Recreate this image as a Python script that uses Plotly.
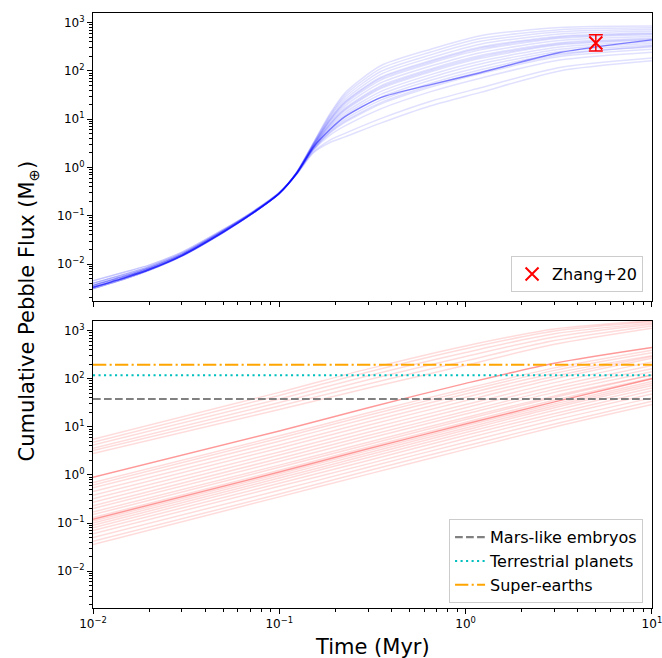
import plotly.graph_objects as go

# ---------------- data ----------------
t_blue = [0.01, 0.015, 0.02, 0.03, 0.05, 0.07, 0.1, 0.124, 0.152, 0.187, 0.225, 0.35, 0.65, 1.2, 3.2, 10]
blue_lines = [
    [0.0031, 0.0050, 0.0074, 0.0146, 0.045, 0.104, 0.29, 0.72, 2.0, 3.3, 4.3, 8.3, 19, 36, 100, 162],
    [0.0033, 0.0053, 0.0077, 0.0150, 0.046, 0.105, 0.29, 0.73, 2.07, 3.7, 5.1, 10.3, 23.6, 44.7, 118, 185],
    [0.0036, 0.0057, 0.0082, 0.0157, 0.048, 0.108, 0.295, 0.74, 2.25, 4.66, 7.26, 16.4, 37.3, 70.8, 168, 245],
    [0.0040, 0.0062, 0.0088, 0.0165, 0.050, 0.111, 0.30, 0.745, 2.33, 5.19, 8.59, 20.5, 46.2, 87.7, 198, 281],
    [0.0031, 0.0050, 0.0074, 0.0146, 0.045, 0.104, 0.29, 0.75, 2.42, 5.71, 9.93, 24.8, 55.8, 106, 229, 315],
    [0.0033, 0.0053, 0.0077, 0.0150, 0.046, 0.105, 0.29, 0.755, 2.47, 6.12, 11.0, 28.4, 64, 121, 254, 342],
    [0.0045, 0.0069, 0.0095, 0.0176, 0.052, 0.114, 0.305, 0.76, 2.53, 6.56, 12.3, 32.6, 73.3, 139, 282, 372],
    [0.0036, 0.0057, 0.0082, 0.0157, 0.048, 0.108, 0.295, 0.76, 2.59, 7.0, 13.6, 37.3, 83.8, 159, 313, 404],
    [0.0033, 0.0053, 0.0077, 0.0150, 0.046, 0.105, 0.29, 0.77, 2.65, 7.52, 15.1, 42.9, 95.9, 182, 347, 439],
    [0.0040, 0.0062, 0.0088, 0.0165, 0.050, 0.111, 0.30, 0.77, 2.72, 8.05, 16.8, 49.1, 110, 208, 385, 476],
    [0.0031, 0.0050, 0.0074, 0.0146, 0.045, 0.104, 0.29, 0.77, 2.78, 8.63, 18.7, 56.4, 126, 239, 427, 518],
    [0.0036, 0.0057, 0.0082, 0.0157, 0.048, 0.108, 0.295, 0.78, 2.84, 9.23, 20.7, 64.6, 144, 273, 473, 562],
    [0.0033, 0.0053, 0.0077, 0.0150, 0.046, 0.105, 0.29, 0.78, 2.91, 9.89, 23.0, 74, 164, 313, 525, 611],
    [0.0045, 0.0069, 0.0095, 0.0176, 0.052, 0.114, 0.305, 0.79, 2.98, 10.6, 25.5, 84.9, 188, 358, 582, 664],
    [0.0040, 0.0062, 0.0088, 0.0165, 0.050, 0.111, 0.30, 0.79, 3.05, 11.4, 28.4, 97.2, 215, 410, 646, 721],
    [0.0033, 0.0053, 0.0077, 0.0150, 0.046, 0.105, 0.29, 0.80, 3.13, 12.1, 31.5, 112, 246, 469, 716, 783],
    [0.0036, 0.0057, 0.0082, 0.0157, 0.048, 0.108, 0.295, 0.80, 3.2, 13, 35, 128, 282, 537, 794, 851],
    [0.0031, 0.0050, 0.0074, 0.0146, 0.045, 0.104, 0.29, 0.745, 2.36, 5.4, 9.1, 22, 50, 95, 215, 330],
    [0.0033, 0.0053, 0.0077, 0.0150, 0.046, 0.105, 0.29, 0.77, 2.68, 7.8, 16.0, 46, 103, 195, 365, 455],
    [0.0036, 0.0057, 0.0082, 0.0157, 0.048, 0.108, 0.295, 0.78, 2.88, 9.6, 22.0, 70, 155, 295, 500, 590],
]
blue_main = [0.0033, 0.0053, 0.0077, 0.0150, 0.046, 0.105, 0.29, 0.75, 2.6, 6.1, 11.3, 28, 52, 92, 240, 440]

zhang_t = [5.0]
zhang_val = [380]
zhang_err_plus = [180]
zhang_err_minus = [120]

t_red = [0.01, 0.1, 0.3, 1, 3, 10]
red_lines = [
    [5.5, 52, 160, 480, 1080, 1600],
    [4.8, 45, 138, 420, 980, 1520],
    [4.2, 38, 115, 350, 860, 1430],
    [3.6, 32, 95, 290, 740, 1350],
    [3.2, 27, 78, 235, 620, 1250],
    [2.8, 23, 64, 190, 520, 1120],
    [0.70, 6.5, 19.6, 62, 168, 392],
    [0.62, 5.8, 17.4, 55, 149, 347],
    [0.54, 5.0, 15.1, 48, 130, 302],
    [0.45, 4.2, 12.7, 41, 113, 290],
    [0.38, 3.6, 10.8, 35, 99, 266],
    [0.32, 3.0, 9.1, 29, 83, 224],
    [0.27, 2.6, 7.7, 25, 70, 189],
    [0.23, 2.2, 6.6, 21, 60, 161],
    [0.20, 1.9, 5.7, 18.4, 52, 140],
    [0.17, 1.6, 4.8, 15.6, 44, 119],
    [0.15, 1.44, 4.3, 14.2, 41, 120],
    [0.13, 1.25, 3.8, 12.4, 36, 104],
    [0.11, 1.06, 3.2, 10.5, 30, 88],
    [0.10, 0.96, 2.9, 9.5, 27.5, 80],
    [0.09, 0.86, 2.6, 8.6, 25, 72],
    [0.08, 0.77, 2.3, 7.6, 22, 64],
    [0.07, 0.67, 2.0, 6.7, 19, 56],
    [0.06, 0.58, 1.7, 5.7, 16.5, 48],
    [0.05, 0.48, 1.45, 4.8, 13.8, 40],
    [0.042, 0.40, 1.22, 4.0, 11.5, 34],
    [0.036, 0.35, 1.04, 3.4, 9.9, 29],
]
red_dark = [
    [0.89, 8.2, 25, 80, 210, 445],
    [0.12, 1.15, 3.5, 11.4, 33, 100],
]

ref_names = ["Mars-like embryos", "Terrestrial planets", "Super-earths"]
ref_values = [38, 118, 195]
ref_colors = ["#808080", "#00bfbf", "#ffa500"]
ref_dashes = ["7.7px,3.3px", "2.1px,3.4px", "13.3px,3.3px,2.1px,3.3px"]

x_range_t = [0.01, 10]

# ---------------- figure ----------------
FONT = "DejaVu Sans"
fig = go.Figure()

for ys in blue_lines:
    fig.add_trace(go.Scatter(x=t_blue, y=ys, mode="lines", xaxis="x", yaxis="y",
                             line=dict(color="rgba(0,0,255,0.12)", width=1.5, shape="spline", smoothing=0.7),
                             showlegend=False, hoverinfo="skip"))
fig.add_trace(go.Scatter(x=t_blue, y=blue_main, mode="lines", xaxis="x", yaxis="y",
                         line=dict(color="rgba(0,0,255,0.45)", width=1.5, shape="spline", smoothing=0.7),
                         showlegend=False, hoverinfo="skip"))

fig.add_trace(go.Scatter(x=zhang_t, y=zhang_val, mode="markers", name="Zhang+20",
                         xaxis="x", yaxis="y", legend="legend",
                         marker=dict(symbol="x-thin", size=13, color="red", line=dict(color="red", width=2)),
                         error_y=dict(type="data", symmetric=False, array=zhang_err_plus,
                                      arrayminus=zhang_err_minus, color="red", thickness=1.5, width=7)))

for ys in red_lines:
    fig.add_trace(go.Scatter(x=t_red, y=ys, mode="lines", xaxis="x2", yaxis="y2",
                             line=dict(color="rgba(255,0,0,0.14)", width=1.5, shape="spline", smoothing=0.8),
                             showlegend=False, hoverinfo="skip"))
for ys in red_dark:
    fig.add_trace(go.Scatter(x=t_red, y=ys, mode="lines", xaxis="x2", yaxis="y2",
                             line=dict(color="rgba(255,0,0,0.4)", width=1.5, shape="spline", smoothing=0.8),
                             showlegend=False, hoverinfo="skip"))

for name, val, col, dash in zip(ref_names, ref_values, ref_colors, ref_dashes):
    fig.add_trace(go.Scatter(x=x_range_t, y=[val, val], mode="lines", name=name,
                             xaxis="x2", yaxis="y2", legend="legend2",
                             line=dict(color=col, width=2.1, dash=dash)))

x_ticks = [0.01, 0.1, 1, 10]
x_ticktext = ["10<sup>−2</sup>", "10<sup>−1</sup>", "10<sup>0</sup>", "10<sup>1</sup>"]
x_minor = [k * 10.0 ** n for n in (-2, -1, 0) for k in range(2, 10)]
y_ticks = [1e-2, 1e-1, 1, 10, 100, 1000]
y_ticktext = ["10<sup>−2</sup>", "10<sup>−1</sup>", "10<sup>0</sup>", "10<sup>1</sup>", "10<sup>2</sup>", "10<sup>3</sup>"]
y_minor = [k * 10.0 ** n for n in range(-3, 4) for k in range(2, 10) if 1.8e-3 < k * 10.0 ** n < 1.5e3]

ax_common = dict(type="log", showgrid=False, zeroline=False, showline=True, linecolor="black",
                 linewidth=1, mirror=True, ticks="outside", ticklen=5, tickwidth=1, tickcolor="black",
                 ticklabeloverflow="allow", automargin=False,
                 tickfont=dict(family=FONT, size=12, color="black"))
xa = dict(ax_common, range=[-2, 1.0005], tickmode="array", tickvals=x_ticks, ticktext=x_ticktext,
          minor=dict(tickmode="array", tickvals=x_minor, ticks="outside", ticklen=3, tickwidth=0.8, tickcolor="black"))
ya = dict(ax_common, range=[-2.765, 3.2], tickmode="array", tickvals=y_ticks, ticktext=y_ticktext,
          minor=dict(tickmode="array", tickvals=y_minor, ticks="outside", ticklen=3, tickwidth=0.8, tickcolor="black"))

legend_common = dict(bgcolor="rgba(255,255,255,0.8)", bordercolor="#cccccc", borderwidth=1,
                     font=dict(family=FONT, size=16, color="black"), xanchor="right", yanchor="bottom",
                     xref="paper", yref="paper", tracegroupgap=0)

fig.update_layout(
    width=662, height=658,
    margin=dict(l=93, r=10, t=13, b=50, autoexpand=False),
    paper_bgcolor="white", plot_bgcolor="white",
    font=dict(family=FONT, size=12, color="black"),
    xaxis=dict(xa, domain=[0, 1], anchor="y", showticklabels=False),
    yaxis=dict(ya, domain=[0.516, 1], anchor="x"),
    xaxis2=dict(xa, domain=[0, 1], anchor="y2", matches="x"),
    yaxis2=dict(ya, domain=[0, 0.4824], anchor="x2"),
    legend=dict(legend_common, x=0.984, y=0.531),
    legend2=dict(legend_common, x=0.984, y=0.008),
    annotations=[
        dict(text="Cumulative Pebble Flux (M<sub>⊕</sub>)", xref="paper", yref="paper",
             x=-0.1163, y=0.5, xanchor="center", yanchor="middle", textangle=-90, showarrow=False,
             font=dict(family=FONT, size=21, color="black")),
        dict(text="Time (Myr)", xref="paper", yref="paper", x=0.5, y=-0.0655,
             xanchor="center", yanchor="middle", showarrow=False,
             font=dict(family=FONT, size=21, color="black")),
    ],
)

fig.write_html("out.html")
